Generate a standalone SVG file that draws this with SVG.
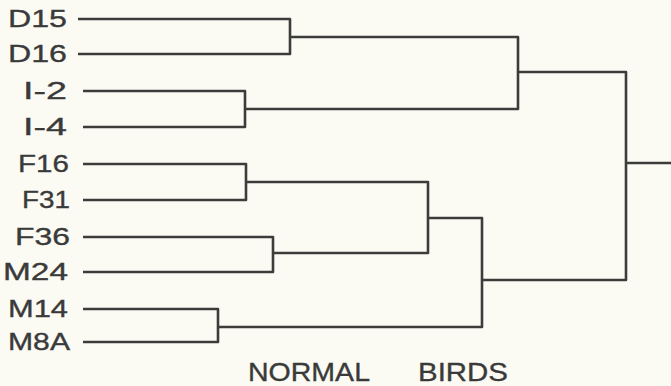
<svg xmlns="http://www.w3.org/2000/svg" width="671" height="386" viewBox="0 0 671 386">
<style>
.lbl{font-family:"Liberation Sans",Arial,Helvetica,sans-serif;font-size:24.5px;fill:#3a3a3a;stroke:#3a3a3a;stroke-width:0.35;text-anchor:end}
.ttl{font-family:"Liberation Sans",Arial,Helvetica,sans-serif;font-size:25.5px;fill:#3a3a3a;stroke:#3a3a3a;stroke-width:0.35}
.ln{fill:none;stroke:#3c3c3a;stroke-width:2.6;stroke-linejoin:round;stroke-linecap:butt}
</style>
<rect width="671" height="386" fill="#fbfbf4"/>
<g id="leaf-D15"><text class="lbl" x="67" y="26.5" textLength="59" lengthAdjust="spacingAndGlyphs">D15</text></g>
<g id="leaf-D16"><text class="lbl" x="67" y="62" textLength="59" lengthAdjust="spacingAndGlyphs">D16</text></g>
<g id="leaf-I-2"><text class="lbl" x="67" y="99" textLength="44" lengthAdjust="spacingAndGlyphs">I-2</text></g>
<g id="leaf-I-4"><text class="lbl" x="67" y="135" textLength="44" lengthAdjust="spacingAndGlyphs">I-4</text></g>
<g id="leaf-F16"><text class="lbl" x="69" y="172" textLength="51" lengthAdjust="spacingAndGlyphs">F16</text></g>
<g id="leaf-F31"><text class="lbl" x="70" y="208" textLength="48" lengthAdjust="spacingAndGlyphs">F31</text></g>
<g id="leaf-F36"><text class="lbl" x="70" y="245" textLength="55" lengthAdjust="spacingAndGlyphs">F36</text></g>
<g id="leaf-M24"><text class="lbl" x="68" y="280" textLength="65" lengthAdjust="spacingAndGlyphs">M24</text></g>
<g id="leaf-M14"><text class="lbl" x="68" y="317" textLength="60" lengthAdjust="spacingAndGlyphs">M14</text></g>
<g id="leaf-M8A"><text class="lbl" x="70" y="350" textLength="62" lengthAdjust="spacingAndGlyphs">M8A</text></g>
<g id="title"><text class="ttl" x="248" y="381" textLength="122" lengthAdjust="spacingAndGlyphs">NORMAL</text><text class="ttl" x="418" y="381" textLength="90" lengthAdjust="spacingAndGlyphs">BIRDS</text></g>
<g id="connectors" class="ln">
<path d="M78,19 H290 V54 H78"/>
<path d="M83,91 H245 V127 H83"/>
<path d="M290,37 H518 V109 H245"/>
<path d="M83,164 H246 V200 H83"/>
<path d="M83,237 H273 V272 H83"/>
<path d="M246,182 H428 V253 H273"/>
<path d="M83,309 H218 V342 H83"/>
<path d="M428,218 H482 V327 H218"/>
<path d="M518,72 H626 V280 H482"/>
<path d="M626,163 H671"/>
</g>
</svg>
